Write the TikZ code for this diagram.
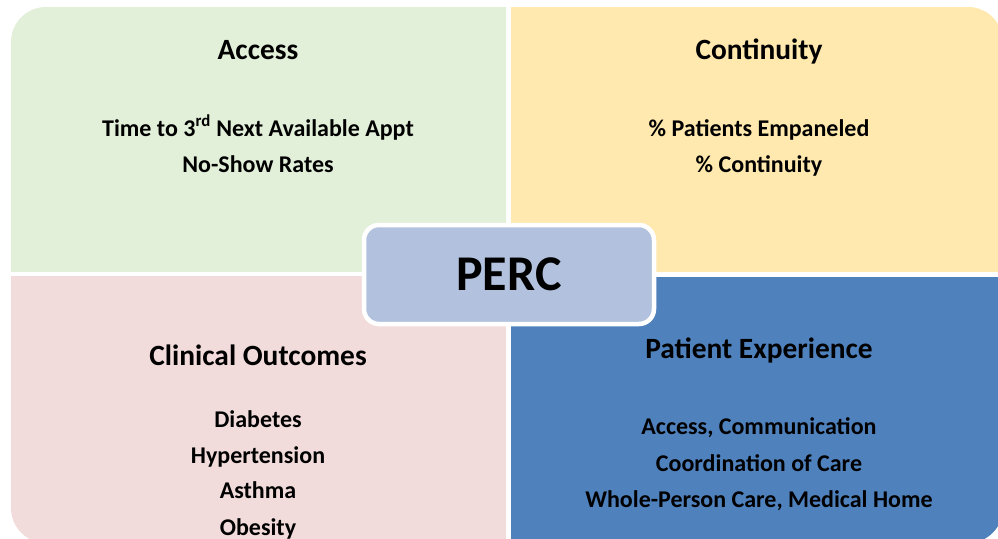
\documentclass[tikz,border=0pt]{standalone}
\usepackage{fontspec}
\setmainfont{Carlito}
\usetikzlibrary{positioning}
\definecolor{accessgreen}{RGB}{226,239,217}
\definecolor{continuitygold}{RGB}{255,233,174}
\definecolor{outcomepink}{RGB}{242,220,219}
\definecolor{experienceblue}{RGB}{79,129,189}
\definecolor{percblue}{RGB}{178,194,222}

\begin{document}
\begin{tikzpicture}[
		x=1pt,
		y=-1pt,
		heading/.style={
			anchor=base,
			inner sep=0pt,
			font=\bfseries\fontsize{29.4}{36}\selectfont
		},
		item/.style={
			anchor=base,
			inner sep=0pt,
			font=\bfseries\fontsize{24}{28}\selectfont
		},
		hub/.style={
			draw=white,
			line width=4.5pt,
			fill=percblue,
			rounded corners=15pt,
			minimum width=290pt,
			minimum height=99pt,
			inner sep=0pt,
			font=\bfseries\fontsize{50}{60}\selectfont
		}
		]
		\useasboundingbox (0,0) rectangle (998,538);
		
		% quadrants, each cut out of one rounded rectangle
		\begin{scope}
			\clip (11,7) rectangle (506,271);
			\fill[accessgreen,rounded corners=35pt] (11,7) rectangle (1003,543);
		\end{scope}
		\begin{scope}
			\clip (511,7) rectangle (998,271);
			\fill[continuitygold,rounded corners=35pt] (11,7) rectangle (1003,543);
		\end{scope}
		\begin{scope}
			\clip (11,276) rectangle (506,538);
			\fill[outcomepink,rounded corners=35pt] (11,7) rectangle (1003,543);
		\end{scope}
		\begin{scope}
			\clip (511,277) rectangle (998,538);
			\fill[experienceblue,rounded corners=35pt] (11,7) rectangle (1003,543);
		\end{scope}
		
		\node[heading] (ACCESS) at (258,59) {Access};
		\node[item] (TNAA) at (258,136) {Time to 3\textsuperscript{rd} Next Available Appt};
		\node[item] (NOSHOW) at (258,172.5) {No-Show Rates};
		
		\node[heading] (CONTINUITY) at (759,59) {Continuity};
		\node[item] (EMPANELED) at (759,136) {\% Patients Empaneled};
		\node[item] (PCONT) at (759,172) {\% Continuity};
		
		\node[heading] (OUTCOMES) at (258,365) {Clinical Outcomes};
		\node[item] (DIABETES) at (258,427) {Diabetes};
		\node[item] (HYPER) at (258,463) {Hypertension};
		\node[item] (ASTHMA) at (258,498) {Asthma};
		\node[item] (OBESITY) at (258,535) {Obesity};
		
		\node[heading] (EXPERIENCE) at (759,358) {Patient Experience};
		\node[item] (COMM) at (759,434) {Access, Communication};
		\node[item] (COORD) at (759,471) {Coordination of Care};
		\node[item] (HOME) at (759,507) {Whole-Person Care, Medical Home};
		
		\node[hub] (PERC) at (509,274.5) {PERC};
	\end{tikzpicture}
\end{document}
